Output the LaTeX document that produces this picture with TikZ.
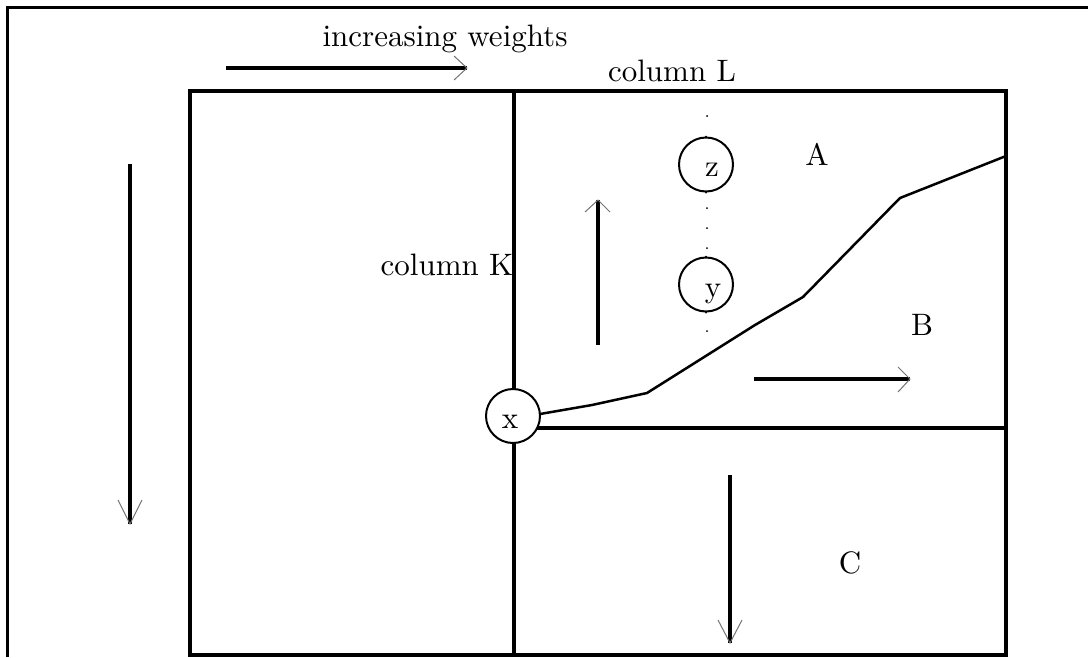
\documentclass[tikz,border=0pt]{standalone}
\begin{document}
\tikzset{
  frameline/.style={line width=3pt},
  boxline/.style={line width=4pt},
  shaft/.style={line width=4pt},
  tipline/.style={line width=1pt, black!55},
  curveline/.style={line width=2.5pt, line join=round},
  bubble/.style={circle, draw, line width=2pt, fill=white, minimum size=54pt, inner sep=0pt},
  lbl/.style={scale=3.1, inner sep=0pt, anchor=base},
  dotmark/.style={circle, fill, inner sep=0pt, minimum size=2pt}
}
\begin{tikzpicture}[x=1pt,y=-1pt]
\useasboundingbox (0,0) rectangle (1088,657);
% outer frame (open at right and bottom)
\draw[frameline] (7,657) -- (7,7) -- (1088,7);
% main box
\draw[boxline] (190,91) rectangle (1006,655);
\draw[boxline] (514,91) -- (514,655);
\draw[boxline] (514,428) -- (1006,428);
% staircase curve
\coordinate (c0) at (540,414);
\coordinate (c1) at (592,405);
\coordinate (c2) at (647,393);
\coordinate (c3) at (755,325);
\coordinate (c4) at (803,297);
\coordinate (c5) at (900,198);
\coordinate (c6) at (1006,156);
\draw[curveline] (c0) -- (c1) -- (c2) -- (c3) -- (c4) -- (c5) -- (c6);
% dots of column L
\foreach \yy in {116,208,228,248,331} \node[dotmark] at (707,\yy) {};
% circles
\node[bubble] (cx) at (513,416) {};
\node[bubble] (cz) at (706,164.5) {};
\node[bubble] (cy) at (706,284.5) {};
\node[dotmark] at (cz.north) {};
\node[dotmark] at (cz.south) {};
\node[dotmark] at (cy.north) {};
\node[dotmark] at (cy.south) {};
\node[lbl] (tx) at (510,428) {x};
\node[lbl] (tz) at (712,176) {z};
\node[lbl] (ty) at (713,297) {y};
% texts
\node[lbl] (tw) at (445,46) {increasing weights};
\node[lbl] (tL) at (672,81) {column L};
\node[lbl] (tK) at (447,275) {column K};
\node[lbl] (tA) at (817,165) {A};
\node[lbl] (tB) at (922,335) {B};
\node[lbl] (tC) at (850,573) {C};
% arrows
\coordinate (w0) at (226,68); \coordinate (w1) at (467,68);
\draw[shaft] (w0) -- (w1);
\draw[tipline] ([shift={(-13,-12)}]w1) -- (w1) -- ([shift={(-13,12)}]w1);
\coordinate (u0) at (598,345); \coordinate (u1) at (598,200);
\draw[shaft] (u0) -- (u1);
\draw[tipline] ([shift={(-13,12)}]u1) -- (u1) -- ([shift={(12,12)}]u1);
\coordinate (b0) at (754,379); \coordinate (b1) at (910,379);
\draw[shaft] (b0) -- (b1);
\draw[tipline] ([shift={(-12,-12)}]b1) -- (b1) -- ([shift={(-12,13)}]b1);
\coordinate (d0) at (730,475); \coordinate (d1) at (730,643);
\draw[shaft] (d0) -- (d1);
\draw[tipline] ([shift={(-12,-23)}]d1) -- (d1) -- ([shift={(12,-23)}]d1);
\coordinate (l0) at (130,164); \coordinate (l1) at (130,524);
\draw[shaft] (l0) -- (l1);
\draw[tipline] ([shift={(-12,-24)}]l1) -- (l1) -- ([shift={(12,-24)}]l1);
\end{tikzpicture}
\end{document}
